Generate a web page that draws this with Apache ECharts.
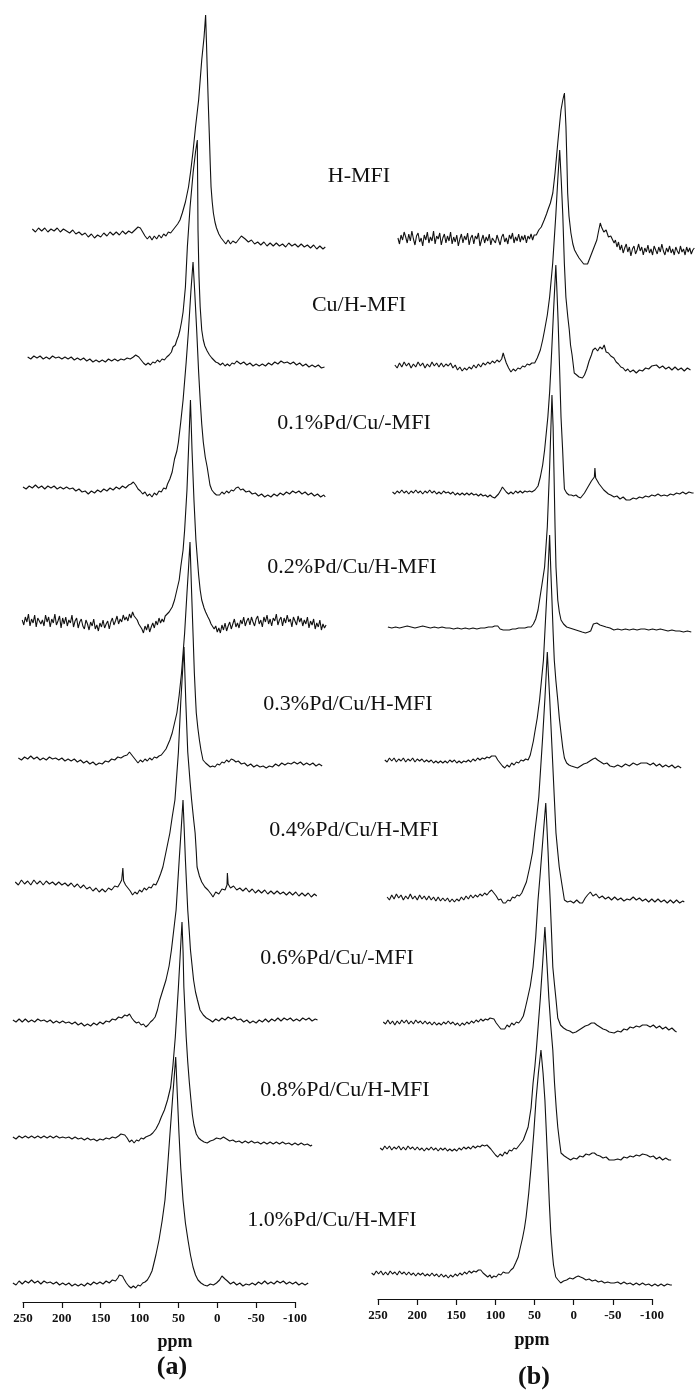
<!DOCTYPE html>
<html>
<head>
<meta charset="utf-8">
<title>NMR spectra</title>
<script src="https://cdn.jsdelivr.net/npm/echarts@6/dist/echarts.min.js"></script>
<style>
html,body{margin:0;padding:0;background:#fff;}
#main{width:699px;height:1395px;}
</style>
</head>
<body>
<div id="main"></div>
<script>
// sample names, top to bottom
var sampleLabels = ['H-MFI', 'Cu/H-MFI', '0.1%Pd/Cu/-MFI', '0.2%Pd/Cu/H-MFI', '0.3%Pd/Cu/H-MFI',
	'0.4%Pd/Cu/H-MFI', '0.6%Pd/Cu/-MFI', '0.8%Pd/Cu/H-MFI', '1.0%Pd/Cu/H-MFI'];
var ppmTicks = [250, 200, 150, 100, 50, 0, -50, -100];

// stacking level of each trace (baseline height)
var offsetsA = [1165, 1038, 908, 775, 637, 513, 375, 258, 112];
var offsetsB = [1157, 1030, 903, 768, 635, 498, 373, 247, 122];

// panel (a) traces: [ppm, intensity]
var a1 = [[238,1],[234,-2],[230,2],[226,-1],[222,2],[218,-2],[214,1],[210,-1],[206,2],[202,-2],[198,1],[194,-1],[190,-3],[186,0],[182,-4],[178,-2],[174,-5],[170,-3],[166,-7],[162,-4],[158,-8],[154,-5],[150,-7],[146,-3],[142,-6],[138,-2],[134,-5],[130,-2],[126,-5],[122,-1],[118,-4],[114,-1],[110,-3],[106,0],[102,3],[99,2],[96,-2],[93,-6],[90,-9],[87,-6],[84,-10],[81,-6],[78,-9],[75,-5],[72,-8],[69,-4],[66,-6],[63,-2],[60,-3],[57,0],[54,3],[51,6],[48,10],[45,17],[41,28],[37,43],[34,60],[31,80],[28,103],[24,130],[22,150],[20,170],[17,193],[15,215],[14,190],[13,163],[11.5,125],[10.3,97],[9,65],[8,43],[6.5,28],[5,17],[3,8],[1,2],[-2,-4],[-5,-8],[-8,-11],[-11,-14],[-14,-10],[-17,-14],[-20,-11],[-24,-13],[-28,-9],[-31,-6],[-33,-4],[-36,-9],[-40,-12],[-44,-10],[-48,-14],[-52,-12],[-56,-15],[-60,-12],[-64,-16],[-68,-13],[-72,-16],[-76,-13],[-80,-16],[-84,-14],[-88,-17],[-92,-13],[-96,-16],[-100,-14],[-104,-17],[-108,-14],[-112,-17],[-116,-15],[-120,-18],[-124,-15],[-128,-19],[-132,-16],[-136,-19],[-139,-17]];
var a2 = [[244,0],[240,-2],[236,1],[232,-1],[228,1],[224,-2],[220,0],[216,-2],[212,1],[208,-1],[204,0],[200,-2],[196,0],[192,-2],[188,0],[184,-3],[180,-1],[176,-3],[172,-1],[168,-4],[164,-2],[160,-5],[156,-3],[152,-5],[148,-3],[144,-5],[140,-2],[136,-4],[132,-2],[128,-4],[124,-2],[120,-3],[116,-1],[112,-2],[108,0],[105,2],[103,3],[101,0],[98,-3],[95,-6],[92,-8],[89,-6],[86,-8],[83,-5],[80,-6],[77,-3],[74,-5],[71,-2],[68,-3],[65,0],[62,2],[59,5],[57,10],[54,12],[52,17],[50,21],[48,27],[46,35],[44,45],[41,70],[38.5,110],[35,150],[31,185],[28,205],[25.7,217],[25.2,170],[24.8,127],[23.5,80],[22,50],[20,27],[18,17],[16,11],[13,6],[10,2],[7,-1],[5,-3],[2,-5],[-1,-6],[-4,-8],[-7,-6],[-10,-9],[-13,-7],[-16,-9],[-19,-6],[-22,-7],[-25,-4],[-27,-5],[-30,-7],[-34,-5],[-38,-8],[-42,-6],[-46,-9],[-50,-7],[-54,-9],[-58,-7],[-62,-9],[-66,-6],[-70,-8],[-74,-5],[-78,-7],[-82,-4],[-86,-6],[-90,-5],[-94,-7],[-98,-5],[-102,-8],[-106,-6],[-110,-9],[-114,-7],[-118,-10],[-122,-8],[-126,-10],[-130,-8],[-134,-11],[-138,-10]];
var a3 = [[250,0],[246,-2],[242,1],[238,-1],[234,2],[230,-1],[226,1],[222,-2],[218,1],[214,-1],[210,1],[206,-2],[202,0],[198,-2],[194,0],[190,-2],[186,-1],[182,-4],[178,-2],[174,-5],[170,-4],[166,-7],[162,-4],[158,-6],[154,-3],[150,-5],[146,-2],[142,-4],[138,-1],[134,-3],[130,0],[126,-2],[122,1],[118,-1],[114,2],[111,3],[108,5],[105,2],[102,-2],[99,-4],[96,-7],[93,-5],[90,-9],[87,-7],[84,-10],[81,-6],[78,-8],[75,-4],[72,-5],[69,-1],[66,-2],[64,3],[61,8],[58,15],[55,28],[52,36],[50,45],[47,65],[44,87],[40,125],[37,157],[34,195],[31.2,225],[29,195],[26.5,157],[24,115],[22,87],[20,63],[18,45],[15.5,30],[13,20],[11,10],[9.4,2],[7,-3],[4,-6],[1,-8],[-3,-8],[-6,-5],[-9,-7],[-12,-4],[-15,-6],[-18,-3],[-21,-4],[-24,-1],[-27,0],[-30,-3],[-33,-2],[-37,-5],[-41,-4],[-45,-7],[-49,-6],[-53,-9],[-57,-7],[-61,-10],[-65,-8],[-69,-10],[-73,-7],[-77,-9],[-81,-6],[-85,-8],[-89,-5],[-93,-7],[-97,-4],[-101,-6],[-105,-4],[-109,-7],[-113,-5],[-117,-8],[-121,-6],[-125,-9],[-129,-7],[-133,-10],[-137,-8],[-139,-10]];
var a4 = [[251,0],[249,-5],[247,3],[245,-2],[243,6],[241,-6],[239,1],[237,-3],[235,5],[233,-7],[231,2],[229,4],[227,-4],[225,0],[223,-6],[221,5],[219,-2],[217,3],[215,-7],[213,1],[211,-3],[209,6],[207,-5],[205,-1],[203,4],[201,-8],[199,2],[197,-4],[195,3],[193,-6],[191,0],[189,-3],[187,5],[185,-7],[183,-1],[181,2],[179,-8],[177,-2],[175,1],[173,-6],[171,-9],[169,0],[167,-4],[165,-10],[163,-2],[161,-6],[159,1],[157,-9],[155,-5],[153,-11],[151,-3],[149,-7],[147,0],[145,-8],[143,-4],[141,-1],[139,-9],[137,-2],[135,2],[133,-5],[131,-1],[129,4],[127,-4],[125,1],[123,-2],[121,5],[119,0],[117,3],[115,-1],[113,6],[111,2],[109,8],[107,4],[105,6],[103,0],[101,-4],[99,-2],[97,-9],[95,-13],[93,-6],[91,-10],[89,-4],[87,-12],[85,-7],[83,-3],[81,-8],[79,-1],[77,-5],[75,2],[73,-3],[71,1],[69,-2],[67,4],[65,5],[62,8],[58,13],[55,20],[52,30],[49,40],[47,53],[44,70],[42,90],[39,130],[37,170],[34.5,220],[32.5,170],[30,120],[27.5,80],[24,45],[22,30],[20,20],[17,12],[15,8],[12,3],[10,0],[8,-4],[6,-2],[4,-9],[2,-6],[0,-12],[-2,-8],[-4,-13],[-6,-5],[-8,-10],[-10,-3],[-12,-11],[-14,-6],[-16,-2],[-18,-9],[-20,-4],[-22,1],[-24,-7],[-26,-3],[-28,-8],[-30,0],[-32,-4],[-34,3],[-36,-6],[-38,-1],[-40,2],[-42,-5],[-44,3],[-46,-2],[-48,-6],[-50,1],[-52,4],[-54,-4],[-56,0],[-58,-7],[-60,3],[-62,-2],[-64,5],[-66,-4],[-68,1],[-70,-6],[-72,2],[-74,-1],[-76,6],[-78,-5],[-80,0],[-82,3],[-84,-6],[-86,2],[-88,-3],[-90,5],[-92,-2],[-94,1],[-96,-7],[-98,3],[-100,-1],[-102,-5],[-104,4],[-106,-2],[-108,2],[-110,-6],[-112,0],[-114,-4],[-116,3],[-118,-8],[-120,-1],[-122,-5],[-124,1],[-126,-9],[-128,-3],[-130,-7],[-132,0],[-134,-10],[-136,-4],[-138,-8],[-140,-5]];
var a5 = [[256,0],[252,-2],[248,1],[244,-1],[240,2],[236,-1],[232,1],[228,-2],[224,0],[220,-2],[216,1],[212,-1],[208,0],[204,-2],[200,0],[196,-3],[192,-1],[188,-3],[184,-1],[180,-4],[176,-2],[172,-5],[168,-3],[164,-6],[160,-4],[156,-7],[152,-5],[148,-6],[144,-3],[140,-4],[136,-1],[132,-2],[128,1],[124,0],[120,2],[116,3],[113,6],[111,5],[108,1],[105,-2],[102,-5],[99,-2],[96,-4],[93,-1],[90,-3],[87,0],[84,-2],[81,1],[78,0],[75,2],[72,3],[69,6],[66,9],[64,11],[61,18],[58,25],[55,35],[52,45],[49,63],[46,85],[44,105],[42,125],[39,165],[37,190],[35.1,216],[33,165],[31,120],[29.5,85],[28,60],[27,45],[25,30],[23,18],[21,8],[18.4,-2],[15,-5],[12,-7],[9,-9],[6,-8],[3,-9],[0,-6],[-3,-7],[-6,-4],[-9,-5],[-12,-2],[-15,-4],[-18,-1],[-21,-2],[-24,-4],[-27,-3],[-31,-6],[-35,-5],[-39,-8],[-43,-6],[-47,-9],[-51,-7],[-55,-9],[-59,-8],[-63,-10],[-67,-8],[-71,-9],[-75,-6],[-79,-8],[-83,-5],[-87,-7],[-91,-5],[-95,-6],[-99,-4],[-103,-6],[-107,-4],[-111,-7],[-115,-5],[-119,-7],[-123,-5],[-127,-8],[-131,-6],[-135,-8]];
var a6 = [[260,0],[256,-3],[252,2],[248,-2],[244,1],[240,-3],[236,2],[232,-2],[228,1],[224,-3],[220,1],[216,-2],[212,0],[208,-3],[204,0],[200,-3],[196,-1],[192,-4],[188,-1],[184,-5],[180,-2],[176,-6],[172,-3],[168,-7],[164,-5],[160,-9],[156,-6],[152,-10],[148,-7],[144,-10],[140,-6],[136,-8],[132,-4],[128,-5],[125,-1],[123,2],[121.5,14],[120.5,1],[118,-3],[115,-6],[112,-9],[109,-13],[106,-10],[103,-12],[100,-8],[97,-10],[94,-6],[91,-8],[88,-5],[85,-6],[82,-2],[79,-3],[76,2],[73,8],[70,15],[66,30],[61,49],[58,65],[54.5,82],[50,130],[47,180],[42.8,235],[40.5,180],[38,130],[35,100],[33,82],[30.5,63],[28.5,49],[27,30],[26,15],[23,6],[20,0],[16,-5],[12,-8],[8,-12],[5.5,-15],[2,-10],[-2,-12],[-6,-7],[-10,-8],[-12.5,-3],[-13,9],[-14,-2],[-17,-6],[-21,-4],[-25,-8],[-29,-6],[-33,-9],[-37,-6],[-41,-10],[-45,-7],[-49,-11],[-53,-8],[-57,-11],[-61,-8],[-65,-12],[-69,-9],[-73,-12],[-77,-9],[-81,-12],[-85,-10],[-89,-13],[-93,-10],[-97,-13],[-101,-10],[-105,-14],[-109,-11],[-113,-14],[-117,-11],[-121,-15],[-125,-12],[-128,-14]];
var a7 = [[263,0],[259,-2],[255,1],[251,-2],[247,1],[243,-2],[239,0],[235,-2],[231,1],[227,-1],[223,0],[219,-2],[215,0],[211,-3],[207,-1],[203,-3],[199,-1],[195,-3],[191,-2],[187,-4],[183,-2],[179,-5],[175,-3],[171,-6],[167,-4],[163,-6],[159,-3],[155,-5],[151,-2],[147,-4],[143,-1],[139,-2],[135,1],[131,0],[127,3],[123,2],[119,5],[116,4],[113,6],[110,2],[107,-1],[104,-3],[101,-2],[98,-5],[95,-4],[92,-7],[89,-5],[86,-2],[83,0],[80,3],[77,10],[74,20],[70,30],[66,40],[62,54],[59,70],[56,90],[53,110],[51,135],[49,160],[46.5,190],[44.1,220],[42.5,190],[41,160],[39.5,135],[38,110],[36,88],[34.5,70],[32.5,55],[30.5,40],[28,28],[25.5,20],[22.2,10],[18,5],[14,2],[9.4,0],[6,-2],[2,1],[-2,-1],[-6,2],[-10,0],[-14,3],[-18,1],[-22,3],[-26,0],[-30,1],[-34,-2],[-38,0],[-42,-3],[-46,-1],[-50,-3],[-54,0],[-58,-2],[-62,1],[-66,-2],[-70,1],[-74,-1],[-78,2],[-82,-1],[-86,2],[-90,0],[-94,2],[-98,-1],[-102,1],[-106,-1],[-110,2],[-114,0],[-118,2],[-122,-1],[-126,1],[-129,0]];
var a8 = [[263,0],[259,-2],[255,1],[251,-1],[247,1],[243,-1],[239,1],[235,-1],[231,1],[227,-1],[223,1],[219,-1],[215,1],[211,-1],[207,1],[203,-1],[199,0],[195,-1],[191,0],[187,-2],[183,0],[179,-2],[175,-1],[171,-3],[167,-1],[163,-3],[159,-2],[155,-4],[151,-2],[147,-3],[143,-1],[139,-2],[135,0],[131,-1],[127,1],[124,3],[122,5],[119,2],[116,-1],[113,-5],[110,-3],[107,-6],[104,-3],[101,-4],[98,-1],[95,-2],[92,0],[89,1],[86,2],[83,4],[79,8],[75,14],[72,20],[68,27],[64,37],[60,50],[57,72],[54,100],[52,125],[50,150],[47.5,185],[45.4,215],[44,185],[43,150],[41.5,125],[40,100],[38,75],[36,55],[34,38],[32,22],[30,12],[27,3],[24,-1],[21,-3],[17,-5],[13,-6],[9,-4],[5,-3],[1,-1],[-4,-2],[-8,0],[-12,-2],[-16,-4],[-20,-3],[-24,-5],[-28,-4],[-32,-6],[-36,-4],[-40,-6],[-44,-4],[-48,-6],[-52,-5],[-56,-7],[-60,-5],[-64,-7],[-68,-5],[-72,-7],[-76,-5],[-80,-7],[-84,-5],[-88,-7],[-92,-6],[-96,-8],[-100,-6],[-104,-8],[-108,-6],[-112,-8],[-116,-7],[-120,-9],[-122,-8]];
var a9 = [[263,0],[259,-2],[255,2],[251,-1],[247,2],[243,0],[239,3],[235,0],[231,2],[227,-1],[223,2],[219,0],[215,1],[211,-1],[207,1],[203,-2],[199,0],[195,-2],[191,0],[187,-3],[183,-1],[179,-3],[175,-1],[171,-3],[167,0],[163,-2],[159,1],[155,-1],[151,1],[147,-1],[143,2],[139,0],[135,3],[131,2],[128,5],[126,8],[124,10],[122,7],[120,4],[117,0],[114,-3],[111,-5],[108,-3],[105,-5],[102,-2],[99,-3],[96,0],[93,1],[90,3],[87,7],[84,12],[82.7,16],[79,28],[75,43],[71,62],[67.3,83],[64,115],[60.8,150],[57,190],[53.5,226],[51.5,190],[49.3,150],[47,115],[44.1,83],[41,60],[37.7,43],[34.5,28],[31.2,16],[28,8],[24.8,3],[21,0],[17,-2],[13,-3],[9,-1],[5,-2],[1,0],[-3,3],[-6,7],[-8,8],[-10,4],[-13,2],[-17,-1],[-21,1],[-25,-2],[-29,0],[-33,-3],[-37,-1],[-41,-2],[-45,0],[-49,-2],[-53,1],[-57,-1],[-61,2],[-65,-1],[-69,1],[-73,-1],[-77,2],[-81,0],[-85,2],[-89,-1],[-93,1],[-97,-1],[-101,1],[-105,-2],[-109,0],[-113,-2],[-117,0]];

// panel (b) traces: [ppm, intensity]
var b1 = [[224,0],[222,-6],[220,3],[218,-2],[216,6],[214,1],[212,-5],[210,4],[208,-3],[206,7],[204,-1],[202,-7],[200,2],[198,5],[196,-4],[194,0],[192,-8],[190,3],[188,-2],[186,6],[184,-5],[182,1],[180,-3],[178,7],[176,-6],[174,2],[172,-1],[170,5],[168,-7],[166,0],[164,4],[162,-5],[160,2],[158,-3],[156,6],[154,-6],[152,1],[150,-4],[148,3],[146,-8],[144,-1],[142,4],[140,-5],[138,2],[136,-2],[134,5],[132,-7],[130,0],[128,3],[126,-6],[124,2],[122,-1],[120,5],[118,-8],[116,-2],[114,3],[112,-5],[110,1],[108,-3],[106,4],[104,-7],[102,0],[100,2],[98,-5],[96,3],[94,-2],[92,-7],[90,1],[88,4],[86,-4],[84,0],[82,-6],[80,3],[78,-1],[76,5],[74,-5],[72,1],[70,-3],[68,4],[66,-4],[64,2],[62,-2],[60,3],[58,-5],[56,2],[54,-1],[52,4],[50,-2],[48,3],[46,1],[45.2,3],[42,8],[38.8,11],[35,18],[32,24],[30.3,28],[27,35],[23.9,45],[21,65],[17.5,95],[15,115],[13.3,128],[11,138],[8.9,145],[6.9,111],[5.8,80],[4.7,45],[3,22],[0.5,5],[-2,-6],[-4.2,-12],[-7,-16],[-10,-20],[-13,-23],[-16,-26],[-18.3,-24],[-21,-26],[-24,-20],[-27,-14],[-30,-8],[-33,-2],[-35,6],[-37.4,15],[-39,11],[-40,13],[-42,6],[-45,8],[-48,1],[-51,2],[-55.3,-5],[-57,-2],[-59,-9],[-61,-4],[-63,-12],[-65,-7],[-67,-15],[-69,-10],[-71,-6],[-73,-14],[-75,-9],[-77,-18],[-79,-11],[-81,-8],[-83,-16],[-85,-12],[-87,-6],[-89,-13],[-91,-9],[-93,-17],[-95,-10],[-97,-14],[-99,-7],[-101,-15],[-103,-11],[-105,-17],[-107,-8],[-109,-12],[-111,-16],[-113,-9],[-115,-14],[-117,-6],[-119,-13],[-121,-17],[-123,-10],[-125,-14],[-127,-8],[-129,-15],[-131,-11],[-133,-17],[-135,-9],[-137,-13],[-139,-16],[-141,-8],[-143,-14],[-145,-11],[-147,-17],[-149,-9],[-151,-14],[-153,-10],[-155,-16],[-157,-12],[-159,-10]];
var b2 = [[228,0],[225,-3],[222,2],[219,-2],[216,3],[213,-1],[210,2],[207,-3],[204,1],[201,-2],[198,3],[195,-1],[192,2],[189,-3],[186,1],[183,-2],[180,3],[177,-1],[174,2],[171,-2],[168,2],[165,-2],[162,1],[159,-1],[156,2],[153,-3],[150,0],[147,-5],[144,-2],[141,-6],[138,-3],[135,-5],[132,-2],[129,-4],[126,0],[123,-3],[120,1],[117,-2],[114,2],[111,0],[108,3],[105,1],[102,4],[99,2],[96,5],[93,3],[90,6],[88,12],[86.5,8],[84,2],[81,-3],[78,-7],[75,-4],[72,-6],[69,-3],[66,-4],[63,-1],[60,-2],[57,1],[54,0],[51,2],[47.3,2],[44,7],[40,15],[37,25],[34.5,35],[31,50],[28,68],[24,102],[20,150],[17.5,185],[15,215],[13,185],[11,150],[9,102],[7,68],[4.5,48],[2.6,35],[1,20],[-1,10],[-3.8,-8],[-7,-10],[-10,-12],[-12,-11],[-14.4,-13],[-17,-10],[-20,-4],[-23,4],[-26,10],[-28,15],[-31,17],[-34,14],[-37,18],[-40,16],[-42.5,20],[-45,13],[-48,12],[-51,9],[-55,7],[-58,3],[-61,1],[-64,-2],[-67,-3],[-70,-6],[-73,-4],[-76,-7],[-80,-5],[-84,-8],[-88,-5],[-92,-6],[-96,-3],[-100,-4],[-104,-1],[-106,-2],[-110,0],[-114,-3],[-118,-1],[-122,-4],[-126,-2],[-130,-5],[-134,-2],[-138,-5],[-142,-3],[-146,-6],[-150,-3],[-154,-5]];
var b3 = [[231,0],[228,-2],[225,1],[222,-1],[219,2],[216,-1],[213,1],[210,-2],[207,1],[204,-1],[201,2],[198,-1],[195,1],[192,-2],[189,1],[186,-1],[183,2],[180,-1],[177,1],[174,-2],[171,0],[168,-2],[165,1],[162,-1],[159,0],[156,-2],[153,0],[150,-3],[147,-1],[144,-3],[141,-1],[138,-3],[135,-1],[132,-3],[129,-1],[126,-3],[123,-2],[120,-4],[117,-2],[114,-4],[111,-3],[108,-5],[105,-3],[102,-5],[99,-6],[97,-4],[94,-2],[91,2],[89,5],[87,3],[84,0],[81,-2],[78,0],[75,-2],[72,1],[69,-1],[66,1],[63,-1],[60,1],[57,0],[54,1],[51,0],[47,2],[43,6],[40,15],[37,27],[34.5,42],[30.3,75],[28,100],[26,130],[23,180],[20,227],[18.5,200],[17,170],[15,120],[13.3,75],[11.2,42],[10,20],[8.9,3],[6,-1],[3,-3],[0,-3],[-3,-4],[-6,-3],[-9,-5],[-11.9,-6],[-14,-4],[-17,-1],[-20,3],[-23,7],[-26,11],[-28,13],[-29.8,15],[-30.5,24],[-31.5,14],[-33,12],[-36,8],[-39,5],[-42,2],[-45,0],[-48,-2],[-51,-3],[-55.3,-5],[-59,-4],[-63,-7],[-67,-5],[-71,-8],[-75.7,-8],[-80,-6],[-84,-7],[-88,-5],[-92,-6],[-96,-4],[-100,-5],[-104,-3],[-108,-4],[-112,-2],[-116,-4],[-120,-3],[-124,-4],[-128,-2],[-132,-3],[-136,-1],[-140,-2],[-144,0],[-148,-2],[-152,0],[-156,-1],[-158,-1]];
var b4 = [[237,0],[232,-1],[227,0],[222,-1],[217,0],[212,1],[207,0],[202,-1],[197,0],[192,1],[187,0],[182,-1],[177,0],[172,-1],[167,0],[162,-1],[157,-1],[152,-2],[147,-1],[142,-2],[137,-1],[132,-2],[127,-1],[122,-2],[117,-1],[112,-1],[107,0],[102,0],[99,1],[97,3],[95,1],[92,-2],[88,-3],[84,-3],[80,-3],[76,-2],[72,-2],[68,-1],[64,-1],[60,-1],[56,0],[52,0],[49,3],[46,8],[43,17],[41,27],[38,42],[34.5,60],[31,100],[28,160],[25,232],[23.5,200],[22.5,160],[21,100],[19.8,60],[17.5,27],[15.5,15],[13.3,7],[10,3],[6,0],[2,-1],[-2,-2],[-6,-3],[-10,-4],[-14,-5],[-18.3,-6],[-22,-5],[-25,-4],[-27,-3],[-28.5,3],[-30,5],[-33,4],[-37,2],[-41,1],[-45,0],[-50,-1],[-55,-3],[-60,-2],[-65,-3],[-70,-2],[-75,-3],[-80,-2],[-85,-3],[-90,-2],[-95,-2],[-100,-3],[-105,-2],[-110,-3],[-115,-2],[-120,-3],[-125,-4],[-130,-3],[-135,-4],[-140,-4],[-145,-5],[-150,-4],[-155,-5]];
var b5 = [[241,0],[238,-2],[235,2],[232,-1],[229,2],[226,-2],[223,1],[220,-1],[217,2],[214,-2],[211,1],[208,-1],[205,2],[202,-2],[199,1],[196,-1],[193,1],[190,-2],[187,0],[184,-2],[181,0],[178,-3],[175,-1],[172,-3],[169,-1],[166,-3],[163,-1],[160,-3],[157,0],[154,-2],[151,0],[148,-3],[145,-1],[142,-3],[139,-1],[136,-2],[133,0],[130,-2],[127,1],[124,-1],[121,2],[118,0],[115,2],[112,1],[109,3],[106,2],[103,4],[100.5,6],[98,4],[95,0],[92,-3],[89,-6],[86,-8],[83,-5],[80,-7],[77,-3],[74,-5],[71,-2],[68,-3],[65,0],[62,-1],[59,1],[55.8,0],[53,5],[51,12],[49,19],[47.3,27],[44,42],[41,60],[38.5,80],[36,100],[34,130],[32,160],[30,190],[28,225],[26.5,190],[25,160],[23.5,128],[22,100],[20,80],[17.5,60],[15.5,42],[13.3,27],[11,12],[8.9,2],[6,-3],[3,-5],[0,-6],[-4,-7],[-8,-8],[-12,-6],[-16,-4],[-20,-3],[-24,-1],[-28,1],[-31,2],[-34,0],[-38,-2],[-42,-4],[-46,-3],[-50,-6],[-55.3,-7],[-60,-5],[-65,-7],[-70,-4],[-75,-6],[-80,-3],[-85,-5],[-90,-3],[-97.5,-3],[-102,-5],[-106,-3],[-110,-6],[-114,-4],[-118,-7],[-122,-5],[-126,-7],[-130,-5],[-134,-8],[-138,-6],[-142,-8]];
var b6 = [[238,0],[235,-3],[232,2],[229,-2],[226,3],[223,-1],[220,2],[217,-3],[214,1],[211,-2],[208,3],[205,-2],[202,1],[199,-3],[196,2],[193,-2],[190,1],[187,-3],[184,1],[181,-3],[178,0],[175,-4],[172,0],[169,-4],[166,-1],[163,-4],[160,-1],[157,-5],[154,-2],[151,-5],[148,-2],[145,-4],[142,0],[139,-3],[136,1],[133,-2],[130,2],[127,-1],[124,2],[121,0],[118,3],[115,1],[112,4],[109,2],[106,5],[103,7],[100,4],[97,1],[94,-3],[91,-2],[88,-6],[85,-6],[82,-3],[79,-4],[76,0],[73,-1],[70,2],[67,1],[64,4],[62,5],[58,15],[53.7,30],[50,45],[47.3,64],[44.5,82],[42,100],[39.5,130],[37,160],[35.5,180],[34,200],[32.5,222],[31,245],[29.5,222],[28,200],[26.5,175],[25,150],[23.5,125],[22,100],[19.8,64],[17.5,45],[15.6,30],[12,12],[8.9,-3],[5,-5],[1,-4],[-3,-6],[-7,-3],[-11,-6],[-14.4,-6],[-18,-1],[-21,2],[-24.6,5],[-28,1],[-32,3],[-36,-1],[-40,1],[-44,-2],[-48,0],[-52,-3],[-56,0],[-60,-3],[-64,-1],[-68,-4],[-72,-2],[-75.7,-3],[-80,0],[-84,-3],[-88,-1],[-92,-4],[-96,-2],[-100,-5],[-104,-2],[-108,-5],[-112,-2],[-116,-5],[-120,-3],[-124,-6],[-128,-3],[-132,-6],[-136,-3],[-140,-6],[-144,-4],[-146,-5]];
var b7 = [[243,0],[240,-2],[237,2],[234,-2],[231,1],[228,-3],[225,1],[222,-2],[219,2],[216,-1],[213,2],[210,-2],[207,1],[204,-2],[201,2],[198,-1],[195,1],[192,-2],[189,1],[186,-2],[183,0],[180,-3],[177,0],[174,-3],[171,-1],[168,-3],[165,0],[162,-2],[159,1],[156,-2],[153,0],[150,-3],[147,-1],[144,-4],[141,-1],[138,-3],[135,0],[132,-2],[129,1],[126,-1],[123,2],[120,0],[117,3],[114,1],[111,3],[108,2],[105,4],[103,5],[100,3],[97,-1],[94,-4],[91,-7],[89,-5],[86,-7],[83,-3],[80,-5],[77,-1],[74,-3],[71,0],[68,-1],[65,2],[62,6],[60,12],[57,22],[53,36],[49.4,55],[46,85],[43,122],[40.5,145],[38,170],[35.5,195],[33,219],[31.5,195],[30,170],[28.7,145],[27.3,122],[25.5,88],[23.9,55],[21.8,38],[19.7,22],[17.5,4],[14,-3],[10,-6],[6,-8],[2,-9],[-2,-11],[-6,-10],[-10,-8],[-14,-6],[-18,-4],[-22,-3],[-26,-1],[-29.8,-1],[-33,-3],[-37,-5],[-41,-7],[-45,-8],[-49,-10],[-55.3,-11],[-60,-9],[-64,-10],[-68,-7],[-72,-8],[-76,-5],[-80,-6],[-84,-4],[-88,-5],[-92,-3],[-97.5,-3],[-102,-5],[-106,-3],[-110,-6],[-114,-4],[-118,-7],[-122,-5],[-126,-8],[-130,-6],[-134,-9],[-136,-10]];
var b8 = [[247,0],[244,-2],[241,2],[238,-1],[235,2],[232,-2],[229,1],[226,-1],[223,2],[220,-2],[217,1],[214,-2],[211,2],[208,-1],[205,1],[202,-2],[199,1],[196,-2],[193,0],[190,-3],[187,0],[184,-2],[181,1],[178,-2],[175,0],[172,-3],[169,0],[166,-2],[163,0],[160,-3],[157,-1],[154,-3],[151,-1],[148,-3],[145,0],[142,-2],[139,1],[136,-1],[133,1],[130,-1],[127,2],[124,0],[121,2],[118,1],[115,3],[112,2],[109,3],[107,3],[104,-1],[101,-4],[98,-7],[95,-9],[92,-6],[89,-8],[86,-4],[83,-6],[80,-2],[77,-3],[74,0],[71,-1],[68,2],[65,5],[62,8],[60,10],[55.8,21],[52,40],[49.4,65],[47,82],[45.2,98],[42.5,125],[40,150],[37,185],[34.1,221],[31.5,185],[29,150],[26.5,122],[23.9,98],[21.7,65],[19.5,40],[17.5,21],[15.5,8],[13.3,-5],[9,-8],[5,-10],[0.9,-12],[-3,-10],[-7,-11],[-11,-8],[-15,-9],[-19,-6],[-23,-7],[-27,-5],[-29.8,-5],[-33,-7],[-37,-8],[-41,-10],[-45,-9],[-49,-12],[-55.3,-12],[-60,-11],[-64,-12],[-68,-9],[-72,-10],[-76,-8],[-80,-9],[-84,-7],[-88,-8],[-92,-6],[-97.5,-7],[-102,-9],[-106,-8],[-110,-11],[-114,-9],[-118,-12],[-122,-10],[-126,-12],[-129,-12]];
var b9 = [[258,0],[255,-2],[252,2],[249,-1],[246,2],[243,-2],[240,1],[237,-2],[234,2],[231,-1],[228,1],[225,-2],[222,2],[219,-1],[216,1],[213,-2],[210,1],[207,-2],[204,0],[201,-3],[198,0],[195,-2],[192,0],[189,-3],[186,-1],[183,-3],[180,0],[177,-3],[174,-1],[171,-4],[168,-1],[165,-4],[162,-2],[159,-5],[156,-2],[153,-4],[150,-1],[147,-3],[144,0],[141,-2],[138,1],[135,-1],[132,2],[129,0],[126,2],[123,1],[120,3],[117,3],[114,0],[111,-2],[108,-4],[105,-2],[103,-5],[100,-3],[97,-4],[94,-1],[91,-2],[88,1],[85,0],[81,0],[78,3],[75,5],[72,10],[68.6,16],[66,25],[63,35],[60.5,45],[58.4,56],[55,80],[52,106],[48.5,140],[45.6,173],[42.5,200],[39.2,223],[36.5,200],[34.1,173],[32.2,140],[30.3,106],[28.4,70],[26.5,40],[24.5,20],[23,8],[20.1,-4],[17,-7],[13.7,-10],[10,-8],[6,-7],[2,-5],[-2,-6],[-6,-4],[-9,-3],[-11.9,-4],[-15,-5],[-19,-7],[-23,-6],[-27,-8],[-31,-7],[-35,-9],[-39,-8],[-43,-10],[-47,-9],[-51,-10],[-55.3,-10],[-60,-9],[-64,-11],[-68,-9],[-72,-11],[-76,-10],[-80,-12],[-84,-10],[-88,-12],[-92,-10],[-96,-12],[-100,-11],[-104,-13],[-108,-11],[-112,-13],[-116,-11],[-120,-13],[-124,-11],[-128,-12],[-130,-12]];

var spectraA = [a1, a2, a3, a4, a5, a6, a7, a8, a9];
var spectraB = [b1, b2, b3, b4, b5, b6, b7, b8, b9];

// where the sample names sit
var labelPos = [[359,176],[359,305],[354,423],[352,567],[348,704],[354,830],[337,958],[345,1090],[332,1220]];

var serif = '"Liberation Serif", "Times New Roman", serif';

function stacked(trace, off) {
	return trace.map(function (p) { return [p[0], off + p[1]]; });
}

var series = [];
for (var i = 0; i < spectraA.length; i++) {
	series.push({
		type: 'line', xAxisIndex: 0, yAxisIndex: 0, showSymbol: false, silent: true,
		lineStyle: {color: '#111', width: 1.1}, data: stacked(spectraA[i], offsetsA[i])
	});
	series.push({
		type: 'line', xAxisIndex: 1, yAxisIndex: 1, showSymbol: false, silent: true,
		lineStyle: {color: '#111', width: 1.1}, data: stacked(spectraB[i], offsetsB[i])
	});
}

var texts = [];
for (var j = 0; j < sampleLabels.length; j++) {
	texts.push({
		type: 'text', x: labelPos[j][0], y: labelPos[j][1],
		style: {text: sampleLabels[j], font: '22px ' + serif, fill: '#111', textAlign: 'center', textVerticalAlign: 'middle'}
	});
}
texts.push({type: 'text', x: 175, y: 1342, style: {text: 'ppm', font: 'bold 18px ' + serif, fill: '#111', textAlign: 'center', textVerticalAlign: 'middle'}});
texts.push({type: 'text', x: 532, y: 1340, style: {text: 'ppm', font: 'bold 18px ' + serif, fill: '#111', textAlign: 'center', textVerticalAlign: 'middle'}});
texts.push({type: 'text', x: 172, y: 1367, style: {text: '(a)', font: 'bold 26px ' + serif, fill: '#111', textAlign: 'center', textVerticalAlign: 'middle'}});
texts.push({type: 'text', x: 534, y: 1377, style: {text: '(b)', font: 'bold 26px ' + serif, fill: '#111', textAlign: 'center', textVerticalAlign: 'middle'}});

function ppmAxis(grid) {
	return {
		type: 'value', gridIndex: grid, min: -100, max: 250, interval: 50, inverse: true,
		axisLine: {lineStyle: {color: '#111', width: 1}},
		axisTick: {length: 6, lineStyle: {color: '#111', width: 1.2}},
		axisLabel: {margin: 10, color: '#111', fontFamily: serif, fontWeight: 'bold', fontSize: 13,
			customValues: ppmTicks},
		splitLine: {show: false}
	};
}

var chart = echarts.init(document.getElementById('main'));
var option = {
	backgroundColor: '#fff',
	animation: false,
	grid: [
		{left: 7.46, top: 0, width: 334.15, height: 1395},
		{left: 362.34, top: 0, width: 340.56, height: 1395},
		{left: 23, top: 1301, width: 272, height: 1},
		{left: 378, top: 1298, width: 274, height: 1}
	],
	xAxis: [
		{type: 'value', gridIndex: 0, min: -160, max: 270, inverse: true, show: false},
		{type: 'value', gridIndex: 1, min: -165, max: 270, inverse: true, show: false},
		ppmAxis(2),
		ppmAxis(3)
	],
	yAxis: [
		{type: 'value', gridIndex: 0, min: 0, max: 1395, show: false},
		{type: 'value', gridIndex: 1, min: 0, max: 1395, show: false},
		{type: 'value', gridIndex: 2, min: 0, max: 1, show: false},
		{type: 'value', gridIndex: 3, min: 0, max: 1, show: false}
	],
	series: series,
	graphic: texts
};
chart.setOption(option);
</script>
</body>
</html>
